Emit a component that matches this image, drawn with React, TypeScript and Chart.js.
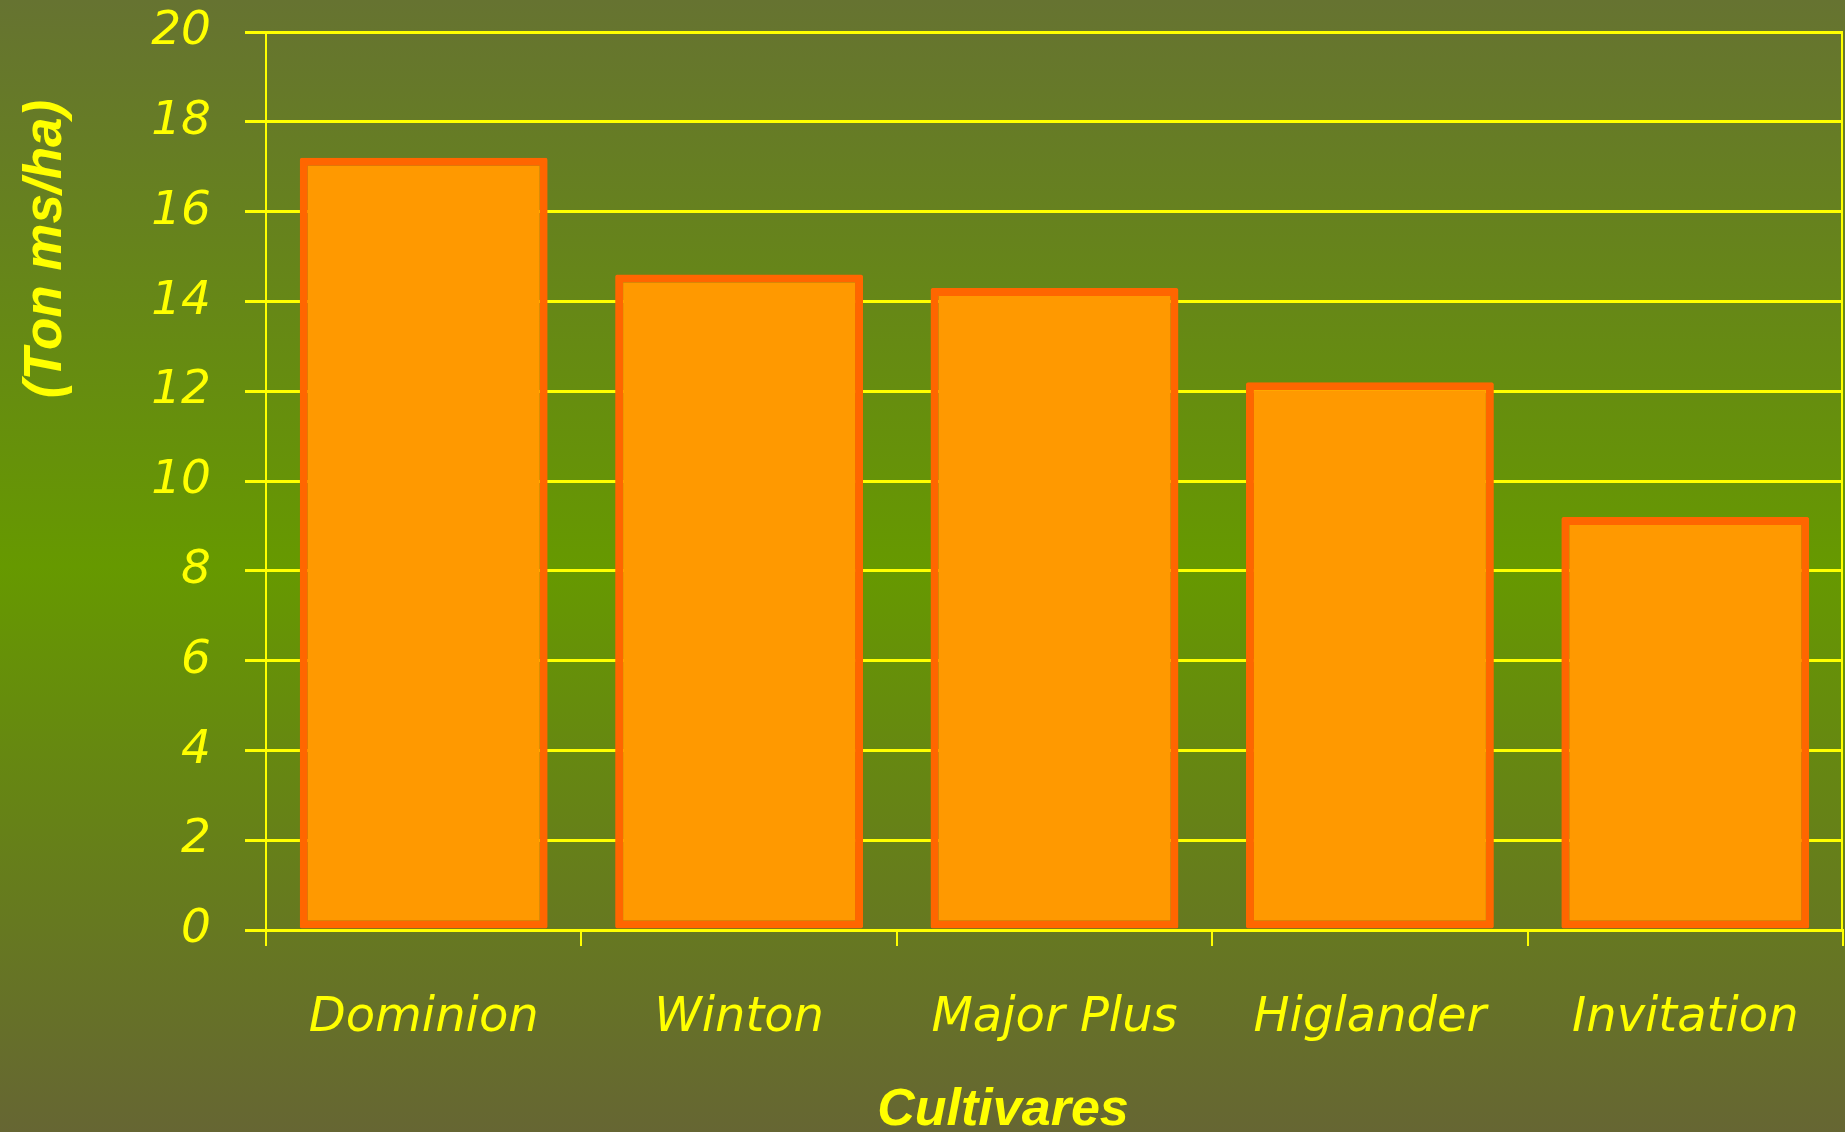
import React, { useEffect, useRef } from "react";
import { Chart, registerables } from "chart.js";

Chart.register(...registerables);

const categories = ["Dominion", "Winton", "Major Plus", "Higlander", "Invitation"];
const values = [17.2, 14.6, 14.3, 12.2, 9.2];
const yMin = 0;
const yMax = 20;
const yStep = 2;
const yTitle = "(Ton ms/ha)";
const xTitle = "Cultivares";

const W = 1845;
const H = 1132;
const YELLOW = "#FFFF00";
const TICK_FONT = "'DejaVu Sans', sans-serif";
const TITLE_FONT = "'Liberation Sans', Arial, sans-serif";

export default function App() {
  const ref = useRef<HTMLCanvasElement>(null);

  useEffect(() => {
    if (!ref.current) return;

    const decor = {
      id: "decor",
      beforeDatasetsDraw(chart: any) {
        const { ctx, chartArea: ca } = chart;
        ctx.save();
        ctx.strokeStyle = YELLOW;
        ctx.lineWidth = 2;
        ctx.beginPath();
        ctx.moveTo(ca.right - 1, ca.top);
        ctx.lineTo(ca.right - 1, ca.bottom);
        ctx.stroke();
        ctx.restore();
      },
      afterDraw(chart: any) {
        const { ctx } = chart;
        ctx.save();
        ctx.fillStyle = YELLOW;
        ctx.font = `italic bold 53px ${TITLE_FONT}`;
        ctx.textAlign = "center";
        ctx.textBaseline = "alphabetic";
        ctx.save();
        ctx.translate(61, 249);
        ctx.rotate(-Math.PI / 2);
        ctx.fillText(yTitle, 0, 0);
        ctx.restore();
        ctx.font = `italic bold 52px ${TITLE_FONT}`;
        ctx.fillText(xTitle, 1003, 1125);
        ctx.restore();
      },
    };

    const chart = new Chart(ref.current, {
      type: "bar",
      data: {
        labels: categories,
        datasets: [
          {
            data: values,
            backgroundColor: "#FF9900",
            borderColor: "#FF6600",
            borderWidth: 8,
            borderSkipped: false,
            borderRadius: 2,
            categoryPercentage: 1,
            barPercentage: 0.786,
          },
        ],
      },
      options: {
        responsive: false,
        maintainAspectRatio: false,
        devicePixelRatio: 1,
        animation: false,
        layout: { padding: { top: 32, right: 2, left: 0, bottom: 0 } },
        plugins: {
          legend: { display: false },
          tooltip: { enabled: false },
          title: { display: false },
        },
        scales: {
          x: {
            z: 1,
            offset: true,
            grid: {
              offset: true,
              drawOnChartArea: false,
              drawTicks: true,
              tickLength: 16,
              color: YELLOW,
              lineWidth: 2,
            },
            border: { display: true, color: YELLOW, width: 3 },
            ticks: {
              color: YELLOW,
              padding: 44,
              maxRotation: 0,
              autoSkip: false,
              font: { family: TICK_FONT, size: 48, style: "italic" },
            },
            afterFit(scale: any) {
              scale.height = 202;
              scale.paddingLeft = 0;
              scale.paddingRight = 0;
            },
          },
          y: {
            min: yMin,
            max: yMax,
            grid: {
              color: YELLOW,
              lineWidth: 3,
              tickLength: 21,
              drawTicks: true,
            },
            border: { display: true, color: YELLOW, width: 2 },
            ticks: {
              stepSize: yStep,
              color: YELLOW,
              padding: 34,
              font: { family: TICK_FONT, size: 47, style: "italic" },
            },
            afterFit(scale: any) {
              scale.width = 266;
              scale.paddingTop = 0;
              scale.paddingBottom = 0;
            },
          },
        },
      },
      plugins: [decor],
    });

    return () => chart.destroy();
  }, []);

  return (
    <div
      style={{
        position: "fixed",
        left: 0,
        top: 0,
        width: W,
        height: H,
        background: "linear-gradient(to bottom, #667331 0%, #669900 50%, #666633 100%)",
      }}
    >
      <canvas ref={ref} width={W} height={H} style={{ display: "block", width: W, height: H }} />
    </div>
  );
}
